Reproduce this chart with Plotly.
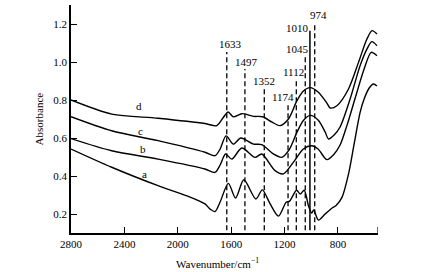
import plotly.graph_objects as go

# ---- data (wavenumber cm^-1, absorbance) ----
wn_a = [2800, 2495, 2148, 1908, 1796, 1758, 1721, 1683, 1621, 1567, 1505, 1415, 1367, 1308, 1246,
        1188, 1162, 1110, 1083, 1053, 1021, 996, 982, 946, 896, 846, 814, 769, 721, 679, 634, 604,
        566, 534, 508]
ab_a = [0.542, 0.446, 0.349, 0.289, 0.253, 0.226, 0.213, 0.263, 0.361, 0.284, 0.380, 0.279, 0.327,
        0.253, 0.189, 0.262, 0.268, 0.325, 0.305, 0.325, 0.244, 0.205, 0.221, 0.168, 0.200, 0.230,
        0.245, 0.289, 0.410, 0.568, 0.735, 0.805, 0.863, 0.884, 0.874]

wn_b = [2800, 2495, 2148, 1796, 1721, 1683, 1642, 1595, 1520, 1421, 1371, 1271, 1209, 1134, 1059,
        996, 949, 883, 834, 784, 733, 658, 604, 551, 508]
ab_b = [0.597, 0.533, 0.489, 0.437, 0.419, 0.458, 0.516, 0.489, 0.547, 0.498, 0.516, 0.428, 0.411,
        0.472, 0.542, 0.559, 0.542, 0.486, 0.511, 0.563, 0.665, 0.841, 0.963, 1.051, 1.033]

wn_c = [2800, 2495, 2148, 1796, 1721, 1683, 1638, 1583, 1528, 1433, 1371, 1284, 1221, 1166, 1106,
        1059, 1008, 949, 896, 871, 829, 784, 709, 634, 583, 546, 508]
ab_c = [0.712, 0.638, 0.586, 0.525, 0.507, 0.542, 0.611, 0.568, 0.600, 0.568, 0.565, 0.516, 0.498,
        0.537, 0.632, 0.692, 0.719, 0.695, 0.632, 0.595, 0.616, 0.658, 0.805, 0.981, 1.068, 1.107,
        1.086]

wn_d = [2800, 2495, 2148, 1796, 1708, 1658, 1623, 1583, 1520, 1433, 1365, 1293, 1233, 1171, 1108,
        1059, 1008, 949, 883, 858, 808, 721, 646, 583, 544, 508]
ab_d = [0.800, 0.726, 0.704, 0.676, 0.665, 0.709, 0.737, 0.711, 0.728, 0.714, 0.712, 0.683, 0.665,
        0.700, 0.795, 0.847, 0.865, 0.842, 0.784, 0.758, 0.770, 0.858, 0.998, 1.121, 1.165, 1.147]

series_names = ["a", "b", "c", "d"]
label_wn = [2251, 2264, 2276, 2288]
label_ab = [0.412, 0.542, 0.637, 0.770]

peak_wn = [1633, 1497, 1352, 1174, 1112, 1045, 1010, 974]
peak_text = ["1633", "1497", "1352", "1174", "1112", "1045", "1010", "974"]
peak_top = [1.053, 0.963, 0.858, 0.784, 0.911, 1.033, 1.165, 1.209]
peak_label_wn = [1608, 1483, 1353, 1211, 1134, 1100, 1100, 943]
peak_label_ab = [1.095, 1.000, 0.900, 0.814, 0.949, 1.068, 1.177, 1.247]
peak_dash = ["dash", "dash", "dash", "dash", "dash", "dash", "solid", "dash"]

x_ticks = [2800, 2400, 2000, 1600, 1200, 800]
x_ticktext = ["2800", "2400", "2000", "1600", "1200", "800"]
x_end_tick = 500
y_ticks = [0.2, 0.4, 0.6, 0.8, 1.0, 1.2]
y_ticktext = ["0.2", "0.4", "0.6", "0.8", "1.0", "1.2"]

FONT = "Liberation Serif"

fig = go.Figure()
for wn, ab in [(wn_a, ab_a), (wn_b, ab_b), (wn_c, ab_c), (wn_d, ab_d)]:
    fig.add_trace(go.Scatter(x=wn, y=ab, mode="lines",
                             line=dict(color="black", width=1.4, shape="spline", smoothing=0.8),
                             showlegend=False, hoverinfo="skip"))

# vertical marker lines
for w, top, d in zip(peak_wn, peak_top, peak_dash):
    fig.add_shape(type="line", x0=w, x1=w, y0=0.115, y1=top, xref="x", yref="y",
                  line=dict(color="black", width=1.3 if d == "dash" else 1.5,
                            dash="5px,3px" if d == "dash" else "solid"))

# end tick of x axis (no label)
fig.add_shape(type="line", x0=x_end_tick, x1=x_end_tick, y0=0.1, y1=0.132, xref="x", yref="y",
              line=dict(color="black", width=1.2))

for w, v, t in zip(peak_label_wn, peak_label_ab, peak_text):
    fig.add_annotation(x=w, y=v, text=t, showarrow=False, xref="x", yref="y",
                       font=dict(family=FONT, size=11, color="black"), xanchor="center", yanchor="middle")

for w, v, t in zip(label_wn, label_ab, series_names):
    fig.add_annotation(x=w, y=v, text=t, showarrow=False, xref="x", yref="y",
                       font=dict(family=FONT, size=11, color="black"), xanchor="center", yanchor="middle")

# axis titles
fig.add_annotation(x=0.476, y=-0.092, xref="paper", yref="paper", text="Wavenumber/cm<sup>−1</sup>",
                   showarrow=False, font=dict(family=FONT, size=11, color="black"),
                   xanchor="center", yanchor="top")
fig.add_annotation(x=-0.103, y=0.5, xref="paper", yref="paper", text="Absorbance", textangle=-90,
                   showarrow=False, font=dict(family=FONT, size=11, color="black"),
                   xanchor="center", yanchor="middle")

fig.update_layout(
    width=421, height=272,
    margin=dict(l=71, r=43, t=5, b=39),
    paper_bgcolor="white", plot_bgcolor="white",
    font=dict(family=FONT, size=11, color="black"),
    xaxis=dict(range=[2800, 500], tickvals=x_ticks, ticktext=x_ticktext, ticks="inside",
               ticklen=6, tickwidth=1.2, tickcolor="black", showline=True, linecolor="black",
               linewidth=1.5, showgrid=False, zeroline=False,
               tickfont=dict(family=FONT, size=11, color="black")),
    yaxis=dict(range=[0.1, 1.3], tickvals=y_ticks, ticktext=y_ticktext, ticks="inside",
               ticklen=6, tickwidth=1.2, tickcolor="black", showline=True, linecolor="black",
               linewidth=1.5, showgrid=False, zeroline=False,
               tickfont=dict(family=FONT, size=11, color="black")),
)

fig.write_html("out.html", config={"displayModeBar": False},
               post_script="document.body.style.margin='0';document.body.style.overflow='hidden';")
